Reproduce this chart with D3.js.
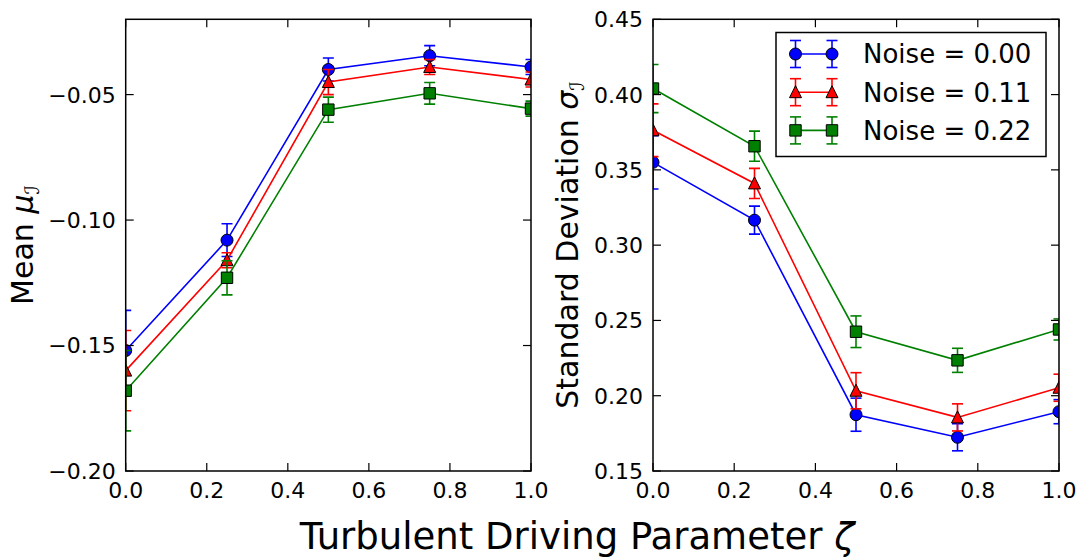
<!DOCTYPE html>
<html>
<head>
<meta charset="utf-8">
<script src="https://cdn.jsdelivr.net/npm/d3@7"></script>
<style>
  html, body { margin: 0; padding: 0; background: #fff; }
  svg { display: block; font-family: "DejaVu Sans", sans-serif; }
</style>
</head>
<body>
<div id="chart"></div>
<script>
// driving parameter values (x) shared by both panels
var zeta = [0.0, 0.25, 0.5, 0.75, 1.0];

var seriesNames = ["Noise = 0.00", "Noise = 0.11", "Noise = 0.22"];
var seriesColors = ["#0000ff", "#ff0000", "#008000"];
var seriesMarkers = ["circle", "triangle", "square"];

// left panel: mean
var meanBlue = [-0.152, -0.108, -0.040, -0.0345, -0.039];
var meanRed = [-0.160, -0.116, -0.045, -0.039, -0.044];
var meanGreen = [-0.168, -0.123, -0.056, -0.0495, -0.0556];
var meanErrBlue = [0.016, 0.0065, 0.0046, 0.004, 0.003];
var meanErrRed = [0.016, 0.003, 0.005, 0.003, 0.003];
var meanErrGreen = [0.016, 0.0068, 0.005, 0.0043, 0.003];

// right panel: standard deviation
var sdBlue = [0.355, 0.3166, 0.1874, 0.1724, 0.1894];
var sdRed = [0.3763, 0.341, 0.2033, 0.1856, 0.2053];
var sdGreen = [0.404, 0.3657, 0.2425, 0.2235, 0.244];
var sdErrBlue = [0.0177, 0.0093, 0.011, 0.009, 0.008];
var sdErrRed = [0.0175, 0.010, 0.012, 0.009, 0.009];
var sdErrGreen = [0.016, 0.010, 0.0105, 0.008, 0.007];

var xTicks = [0.0, 0.2, 0.4, 0.6, 0.8, 1.0];
var meanTicks = [-0.20, -0.15, -0.10, -0.05];
var sdTicks = [0.15, 0.20, 0.25, 0.30, 0.35, 0.40, 0.45];

var W = 1083, H = 558;
var svg = d3.select("#chart").append("svg").attr("width", W).attr("height", H);

var plotTop = 19.3, plotBottom = 471;
var tickLen = 8;

function markerPath(kind) {
  if (kind === "circle") return d3.symbol().type(d3.symbolCircle).size(Math.PI * 36)();
  if (kind === "triangle") return "M0,-6.5L6,5.5L-6,5.5Z";
  return "M-5.7,-5.7L5.7,-5.7L5.7,5.7L-5.7,5.7Z";
}

function panel(id, left, right, yDomain, yTicks, ys, errs) {
  var x = d3.scaleLinear().domain([0, 1]).range([left, right]);
  var y = d3.scaleLinear().domain(yDomain).range([plotBottom, plotTop]);
  var g = svg.append("g");

  svg.append("clipPath").attr("id", id)
    .append("rect").attr("x", left).attr("y", plotTop)
    .attr("width", right - left).attr("height", plotBottom - plotTop);

  var plot = g.append("g").attr("clip-path", "url(#" + id + ")");

  ys.forEach(function(vals, s) {
    var col = seriesColors[s];
    var pts = zeta.map(function(z, i) { return {x: z, y: vals[i], e: errs[s][i]}; });
    var sg = plot.append("g");
    sg.append("path").datum(pts)
      .attr("fill", "none").attr("stroke", col).attr("stroke-width", 1.6)
      .attr("d", d3.line().x(function(d) { return x(d.x); }).y(function(d) { return y(d.y); }));
    var eb = sg.selectAll(".eb").data(pts).enter().append("g")
      .attr("stroke", col).attr("stroke-width", 1.6);
    eb.append("line")
      .attr("x1", function(d) { return x(d.x); }).attr("x2", function(d) { return x(d.x); })
      .attr("y1", function(d) { return y(d.y - d.e); }).attr("y2", function(d) { return y(d.y + d.e); });
    [-1, 1].forEach(function(sgn) {
      eb.append("line")
        .attr("x1", function(d) { return x(d.x) - 5.5; }).attr("x2", function(d) { return x(d.x) + 5.5; })
        .attr("y1", function(d) { return y(d.y + sgn * d.e); }).attr("y2", function(d) { return y(d.y + sgn * d.e); });
    });
    sg.selectAll(".mk").data(pts).enter().append("path")
      .attr("d", markerPath(seriesMarkers[s]))
      .attr("transform", function(d) { return "translate(" + x(d.x) + "," + y(d.y) + ")"; })
      .attr("fill", col).attr("stroke", "#000").attr("stroke-width", 1);
  });

  // ticks on all four sides, pointing inward
  var ax = g.append("g").attr("stroke", "#000").attr("stroke-width", 1.2);
  xTicks.forEach(function(t) {
    ax.append("line").attr("x1", x(t)).attr("x2", x(t)).attr("y1", plotBottom).attr("y2", plotBottom - tickLen);
    ax.append("line").attr("x1", x(t)).attr("x2", x(t)).attr("y1", plotTop).attr("y2", plotTop + tickLen);
  });
  yTicks.forEach(function(t) {
    ax.append("line").attr("x1", left).attr("x2", left + tickLen).attr("y1", y(t)).attr("y2", y(t));
    ax.append("line").attr("x1", right).attr("x2", right - tickLen).attr("y1", y(t)).attr("y2", y(t));
  });
  g.append("rect").attr("x", left).attr("y", plotTop)
    .attr("width", right - left).attr("height", plotBottom - plotTop)
    .attr("fill", "none").attr("stroke", "#000").attr("stroke-width", 1.5);

  var lab = g.append("g").attr("font-size", 22).attr("fill", "#000");
  xTicks.forEach(function(t) {
    lab.append("text").attr("x", x(t)).attr("y", plotBottom + 27)
      .attr("text-anchor", "middle").text(d3.format(".1f")(t));
  });
  yTicks.forEach(function(t) {
    lab.append("text").attr("x", left - 10).attr("y", y(t)).attr("dy", "0.36em")
      .attr("text-anchor", "end").text(d3.format(".2f")(t));
  });
  return {x: x, y: y, g: g};
}

var L = panel("clipL", 125.7, 531, [-0.20, -0.02], meanTicks,
  [meanBlue, meanRed, meanGreen], [meanErrBlue, meanErrRed, meanErrGreen]);
var R = panel("clipR", 653, 1059, [0.15, 0.45], sdTicks,
  [sdBlue, sdRed, sdGreen], [sdErrBlue, sdErrRed, sdErrGreen]);

// y axis labels
function yLabel(cx, cy, main, sym) {
  var t = svg.append("text").attr("transform", "translate(" + cx + "," + cy + ") rotate(-90)")
    .attr("text-anchor", "middle").attr("font-size", 30).attr("fill", "#000");
  t.append("tspan").text(main);
  t.append("tspan").attr("font-style", "italic").text(sym);
  t.append("tspan").attr("font-size", 20).attr("font-style", "italic").attr("dy", 6).text("\u2110");
}
yLabel(33, 245, "Mean ", "\u03bc");
yLabel(578, 245, "Standard Deviation ", "\u03c3");

// shared x label
var xl = svg.append("text").attr("x", 577).attr("y", 549).attr("text-anchor", "middle")
  .attr("font-size", 37).attr("fill", "#000");
xl.append("tspan").text("Turbulent Driving Parameter ");
xl.append("tspan").attr("font-style", "italic").text("\u03b6");

// legend in right panel
var leg = svg.append("g");
leg.append("rect").attr("x", 776).attr("y", 32.5).attr("width", 270).attr("height", 124)
  .attr("fill", "#fff").attr("stroke", "#000").attr("stroke-width", 1.5);
seriesNames.forEach(function(name, s) {
  var cy = 54 + s * 38.2;
  var col = seriesColors[s];
  var row = leg.append("g");
  row.append("line").attr("x1", 795.5).attr("x2", 832).attr("y1", cy).attr("y2", cy)
    .attr("stroke", col).attr("stroke-width", 1.6);
  [795.5, 832].forEach(function(mx) {
    row.append("line").attr("x1", mx).attr("x2", mx).attr("y1", cy - 13.5).attr("y2", cy + 13.5)
      .attr("stroke", col).attr("stroke-width", 1.6);
    [-13.5, 13.5].forEach(function(o) {
      row.append("line").attr("x1", mx - 5.5).attr("x2", mx + 5.5).attr("y1", cy + o).attr("y2", cy + o)
        .attr("stroke", col).attr("stroke-width", 1.6);
    });
    row.append("path").attr("d", markerPath(seriesMarkers[s]))
      .attr("transform", "translate(" + mx + "," + cy + ")")
      .attr("fill", col).attr("stroke", "#000").attr("stroke-width", 1);
  });
  row.append("text").attr("x", 863).attr("y", cy).attr("dy", "0.36em")
    .attr("font-size", 26).attr("fill", "#000").text(name);
});
</script>
</body>
</html>
